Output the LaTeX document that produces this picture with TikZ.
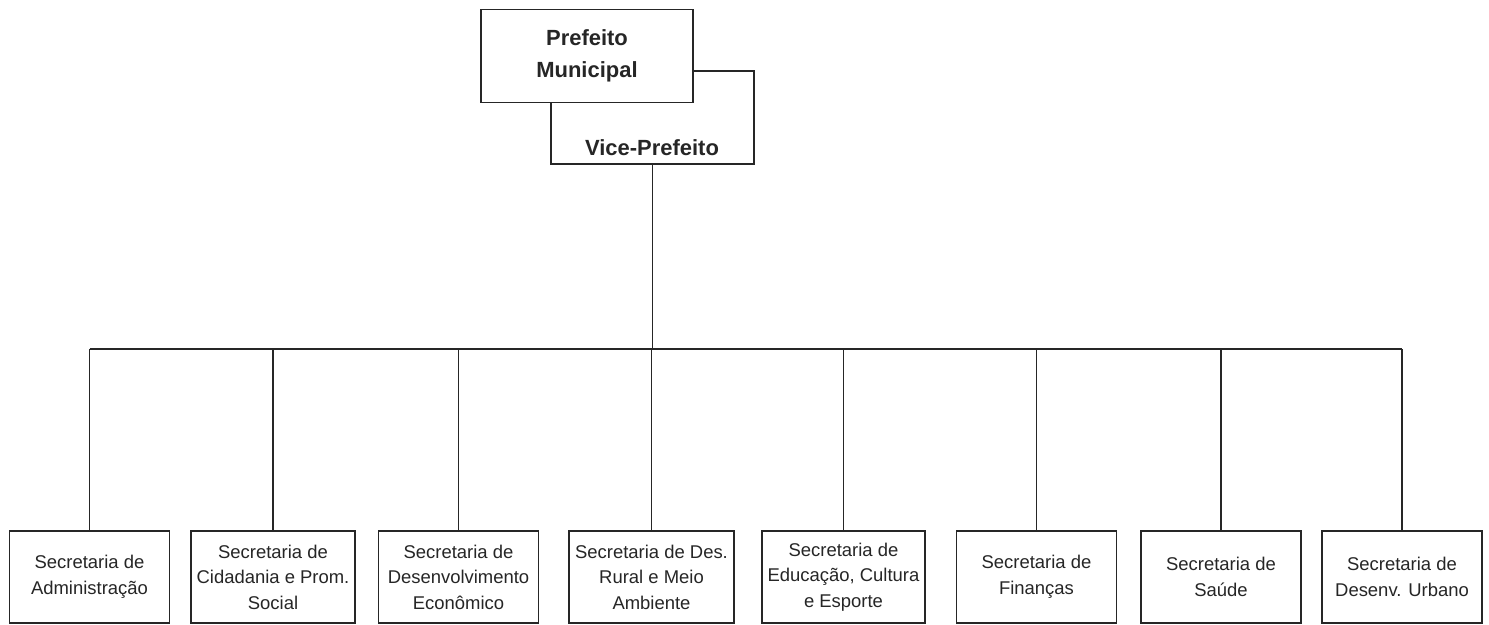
\documentclass[tikz,border=0pt]{standalone}
\usepackage{fontspec}
\setmainfont{Liberation Sans}
\begin{document}
\begin{tikzpicture}[x=0.02cm, y=-0.02cm, line width=0.9pt, color={black!85},
    topbox/.style={draw, fill=white, font=\fontsize{12.5}{18.5}\selectfont\bfseries, align=center, minimum width=4.24cm, minimum height=1.86cm},
    secbox/.style={draw, fill=white, font=\fontsize{10.5}{14.5}\selectfont, align=center, minimum width=3.2cm, minimum height=1.84cm}]
    \useasboundingbox[fill=white] (0,0) rectangle (1489,625);
    \node[topbox, minimum width=4.06cm] (vice) at (652.5,117.5) {};
    \node[font=\fontsize{12.5}{15}\selectfont\bfseries] (vicetxt) at (652,148) {Vice-Prefeito};
    \node[topbox] (prefeito) at (587,56) {Prefeito\\Municipal};
    \foreach \x/\t [count=\i] in {89.5/{Secretaria de\\Administração},
        273/{Secretaria de\\Cidadania e Prom.\\Social},
        458.5/{Secretaria de\\Desenvolvimento\\Econômico},
        651.5/{Secretaria de Des.\\Rural e Meio\\Ambiente},
        843.5/{Secretaria de\\Educação, Cultura\\e Esporte},
        1036.5/{Secretaria de\\Finanças},
        1221/{Secretaria de\\Saúde},
        1402/{Secretaria de\\Desenv. Urbano}}
        \node[secbox] (sec\i) at (\x,577) {\t};
    \coordinate (bar) at (0,349);
    \draw (vice.south) -- (vice.south |- bar);
    \draw (sec1.north |- bar) -- (sec8.north |- bar);
    \foreach \i in {1,...,8}
        \draw (sec\i.north |- bar) -- (sec\i.north);
\end{tikzpicture}
\end{document}
